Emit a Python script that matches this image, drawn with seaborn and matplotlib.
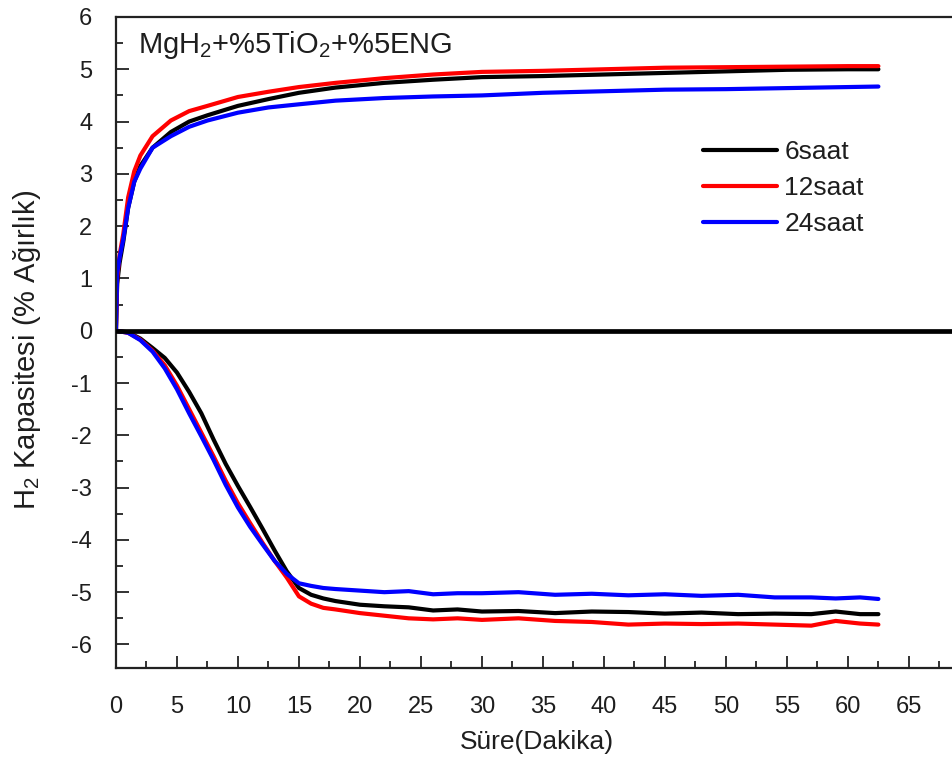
import numpy as np
import pandas as pd
import matplotlib
matplotlib.use('Agg')
import matplotlib.pyplot as plt
from matplotlib.ticker import MultipleLocator, FixedLocator
import seaborn as sns

# Absorption (upper) curves
t_abs = [0, 0.1, 0.3, 0.6, 1.0, 1.5, 2, 3, 4.5, 6, 7.5, 10, 12.5, 15, 18, 22,
         26, 30, 35, 40, 45, 50, 55, 60, 62.5]
abs_6 = [0, 0.9, 1.3, 1.7, 2.35, 2.85, 3.15, 3.5, 3.8, 4.0, 4.12, 4.3, 4.43, 4.55,
         4.65, 4.74, 4.8, 4.85, 4.87, 4.9, 4.93, 4.96, 4.99, 5.0, 5.0]
abs_12 = [0, 1.0, 1.45, 1.85, 2.55, 3.05, 3.35, 3.72, 4.02, 4.2, 4.3, 4.47, 4.57, 4.66,
          4.74, 4.83, 4.9, 4.95, 4.97, 5.0, 5.03, 5.04, 5.05, 5.06, 5.06]
abs_24 = [0, 1.1, 1.4, 1.75, 2.35, 2.85, 3.1, 3.5, 3.72, 3.9, 4.02, 4.17, 4.27, 4.33,
          4.4, 4.45, 4.48, 4.5, 4.55, 4.58, 4.61, 4.62, 4.64, 4.66, 4.67]

# Desorption (lower) curves
t_des = [0, 1, 2, 3, 4, 5, 6, 7, 8, 9, 10, 11, 12, 13, 14, 15, 16, 17, 18, 20, 22,
         24, 26, 28, 30, 33, 36, 39, 42, 45, 48, 51, 54, 57, 59, 61, 62.5]
des_6 = [0, -0.03, -0.15, -0.33, -0.52, -0.8, -1.17, -1.58, -2.08, -2.55, -2.97,
         -3.37, -3.78, -4.2, -4.6, -4.92, -5.05, -5.12, -5.17, -5.24, -5.27, -5.29,
         -5.35, -5.33, -5.37, -5.36, -5.4, -5.37, -5.38, -5.41, -5.39, -5.42, -5.41,
         -5.42, -5.37, -5.42, -5.42]
des_12 = [0, -0.04, -0.17, -0.38, -0.66, -1.05, -1.5, -1.95, -2.4, -2.87, -3.3,
          -3.68, -4.05, -4.4, -4.72, -5.08, -5.22, -5.3, -5.33, -5.4, -5.45, -5.5,
          -5.52, -5.5, -5.53, -5.5, -5.55, -5.57, -5.62, -5.6, -5.61, -5.6, -5.62,
          -5.64, -5.55, -5.6, -5.62]
des_24 = [0, -0.04, -0.18, -0.4, -0.72, -1.12, -1.58, -2.02, -2.47, -2.95, -3.38,
          -3.75, -4.08, -4.4, -4.65, -4.83, -4.88, -4.92, -4.94, -4.97, -5.0, -4.98,
          -5.04, -5.02, -5.02, -5.0, -5.05, -5.03, -5.06, -5.04, -5.07, -5.05, -5.1,
          -5.1, -5.12, -5.1, -5.13]

labels = ['6saat', '12saat', '24saat']
colors = ['#000000', '#ff0000', '#0000ff']
x_ticks = [0, 5, 10, 15, 20, 25, 30, 35, 40, 45, 50, 55, 60, 65]

sns.set_style('ticks')
plt.rcParams['font.family'] = ['Liberation Sans', 'DejaVu Sans']
plt.rcParams['mathtext.fontset'] = 'custom'
plt.rcParams['mathtext.rm'] = 'Liberation Sans'
plt.rcParams['mathtext.it'] = 'Liberation Sans:italic'
plt.rcParams['axes.unicode_minus'] = False
txt = '#1e1e1e'

fig = plt.figure(figsize=(9.52, 7.65), dpi=100)
ax = fig.add_axes([0.1218, 0.1268, 0.897, 0.851])

for y_abs, y_des, lab, col in zip([abs_6, abs_12, abs_24], [des_6, des_12, des_24],
                                  labels, colors):
    sns.lineplot(x=t_abs, y=y_abs, color=col, lw=3, label=lab, ax=ax)
    sns.lineplot(x=t_des, y=y_des, color=col, lw=3, ax=ax, legend=False)

ax.axhline(0, color='black', lw=3.4, zorder=5)

ax.set_xlim(0, 70)
ax.set_ylim(-6.45, 6)
ax.xaxis.set_major_locator(FixedLocator(x_ticks))
ax.xaxis.set_minor_locator(FixedLocator([v + 2.5 for v in x_ticks]))
ax.yaxis.set_major_locator(MultipleLocator(1))
ax.yaxis.set_minor_locator(MultipleLocator(0.5))
ax.tick_params(which='both', direction='in', color='#222222', width=1.3,
               top=False, right=False, labelcolor=txt, labelsize=17)
ax.tick_params(which='major', length=9)
ax.tick_params(which='minor', length=5)
ax.tick_params(axis='y', which='major', pad=17)
ax.tick_params(axis='x', which='major', pad=20)
for s in ax.spines.values():
    s.set_color('#222222')
    s.set_linewidth(1.6)

ax.set_xlabel('Süre(Dakika)', fontsize=19, color=txt)
ax.xaxis.set_label_coords(0.493, -0.095)
ax.set_ylabel('H$_\\mathregular{2}$ Kapasitesi (% Ağırlık)', fontsize=21, color=txt)
ax.yaxis.set_label_coords(-0.085, 0.488)

ax.text(0.026, 0.945, 'MgH$_\\mathregular{2}$+%5TiO$_\\mathregular{2}$+%5ENG',
        transform=ax.transAxes, fontsize=21, color=txt, ha='left', va='baseline')

leg = ax.legend(loc='center left', bbox_to_anchor=(0.687, 0.737), frameon=False,
                fontsize=19, handlelength=2.8, handletextpad=0.3, labelspacing=0.45,
                borderpad=0, borderaxespad=0)
for h in leg.get_lines():
    h.set_linewidth(3)
for t in leg.get_texts():
    t.set_color(txt)

fig.savefig('out.png', dpi=100)
